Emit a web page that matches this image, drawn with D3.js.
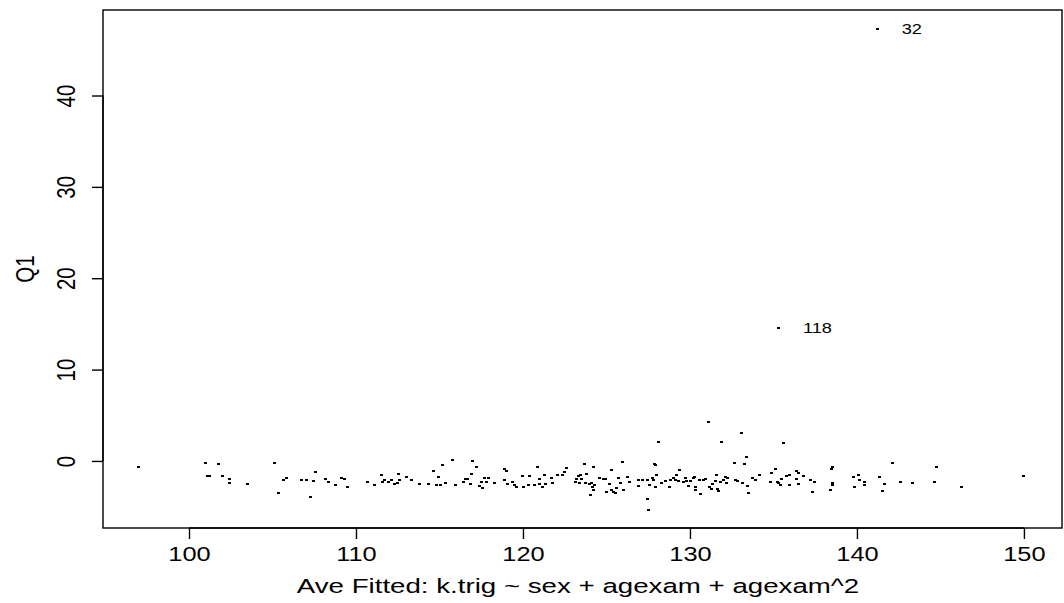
<!DOCTYPE html>
<html>
<head>
<meta charset="utf-8">
<script src="https://cdn.jsdelivr.net/npm/d3@7"></script>
<style>
  html, body { margin: 0; padding: 0; background: #fff; }
  svg { display: block; }
  text { font-family: "Liberation Sans", Arial, Helvetica, sans-serif; fill: #000; }
</style>
</head>
<body>
<svg id="chart" width="1064" height="603"></svg>
<script>
// Average fitted value (x) against the Q1 statistic (y), one point per subject
const fitted = [
  96.96, 101.0, 101.78, 101.1, 101.2, 101.99, 102.44, 102.40, 103.49,
  105.11, 105.37, 105.63, 105.81, 106.71, 107.02, 107.60, 107.47, 107.25, 108.19,
  108.38, 108.78, 109.14, 109.32, 109.48, 110.70, 111.10,
  111.54, 111.60, 111.72, 111.96, 112.14, 112.28, 112.48, 112.54, 112.60, 113.02,
  113.32, 113.80, 114.35, 114.67, 114.93, 114.83, 115.07, 115.21, 115.39, 115.77,
  115.95, 116.43, 116.55, 116.65, 116.83, 116.91, 116.95, 117.23, 117.38, 117.53,
  117.59, 117.71, 117.80, 117.95, 118.31,
  118.92, 119.02, 118.88, 119.08, 119.36, 119.48, 119.62, 119.96, 120.02, 120.34,
  120.42, 120.68, 120.88, 120.96, 120.98, 121.16, 121.30, 121.32, 121.72, 121.78,
  122.06, 122.38, 122.47, 122.63, 123.23, 123.17, 123.31, 123.45, 123.39, 123.51,
  123.67, 123.75, 123.83, 123.99, 124.11, 124.15, 124.23, 124.25, 124.07, 124.29,
  124.57, 124.83, 124.93, 125.01, 125.29, 125.21, 125.31, 125.43, 125.55, 125.61,
  125.75, 125.85, 125.99, 126.01,
  126.25, 126.35, 126.89, 127.15, 126.93, 127.44, 127.44, 127.54, 127.60, 127.74,
  127.80, 127.86, 127.92, 128.00, 127.94, 128.14, 128.28, 128.52, 128.78, 128.86,
  129.00, 129.12, 129.22, 129.32, 129.38, 129.60, 129.72, 129.80, 129.90, 130.06,
  130.20, 130.30, 130.32, 130.36, 130.66, 130.60, 130.80, 130.96, 131.14, 131.20,
  131.28, 131.36, 131.50, 131.58, 131.64, 131.72, 131.90, 131.84, 132.02, 132.10,
  132.16, 132.24, 132.69, 132.73, 132.83, 133.07, 133.25, 133.41, 133.15, 133.43,
  133.49, 133.73, 133.91, 134.17, 134.81, 134.87, 135.11, 135.61, 135.25, 135.33,
  135.41, 135.51, 135.45, 135.79, 135.95, 135.95, 136.39, 136.53, 136.39, 136.53,
  136.79, 137.20, 137.47, 137.35, 138.46, 138.52, 138.54, 138.52, 138.40, 139.80,
  140.10, 140.16, 140.46, 139.88, 140.46,
  141.38, 141.64, 141.54, 142.14, 142.63, 143.34, 144.77, 144.63, 146.27, 150.0,
  141.24, 135.33
];
const q1 = [
  -0.66, -0.22, -0.33, -1.64, -1.64, -1.64, -1.97, -2.37, -2.52,
  -0.22, -3.50, -2.08, -1.86, -2.08, -2.08, -1.20, -2.19, -3.94, -1.97,
  -2.30, -2.63, -1.86, -1.97, -2.85, -2.30, -2.63,
  -1.53, -2.30, -2.08, -2.30, -2.08, -2.52, -2.41, -1.42, -2.08, -1.75,
  -2.08, -2.52, -2.52, -1.10, -1.75, -2.63, -2.63, -0.39, -2.41, 0.11,
  -2.63, -2.30, -1.97, -1.97, -2.52, -1.42, 0.00, -0.66, -2.74, -2.30,
  -2.96, -1.86, -2.30, -1.86, -2.41,
  -0.88, -1.10, -2.08, -2.52, -2.30, -2.63, -2.85, -1.64, -2.85, -2.63,
  -1.64, -2.63, -0.66, -1.97, -2.52, -2.85, -1.53, -2.52, -1.86, -2.41,
  -1.53, -1.53, -1.20, -0.77, -1.97, -2.30, -1.64, -1.53, -2.41, -1.97,
  -0.33, -2.41, -1.42, -2.52, -2.41, -2.85, -0.66, -3.21, -3.76, -2.63,
  -1.86, -1.97, -1.97, -3.40, -0.99, -2.52, -3.21, -3.40, -3.50, -2.96,
  -1.86, -2.41, -0.11, -3.21,
  -1.75, -2.30, -2.08, -2.08, -2.74, -2.08, -4.16, -5.32, -2.63, -1.86,
  -2.08, -0.33, -0.39, -1.53, -2.85, 2.08, -2.41, -2.19, -2.85, -2.08,
  -1.86, -2.08, -1.53, -2.19, -0.99, -2.30, -1.86, -2.19, -2.74, -2.19,
  -1.86, -1.75, -2.85, -3.18, -3.61, -2.08, -2.08, -1.97, 4.27, -2.85,
  -3.07, -2.52, -2.19, -1.53, -3.07, -3.29, 2.08, -2.30, -2.08, -1.75,
  -2.41, -1.86, -0.22, -2.08, -2.19, 3.07, -0.33, 0.44, -2.41, -2.74,
  -3.50, -1.86, -2.08, -1.53, -2.30, -1.31, -0.88, 1.97, -2.30, -2.41,
  -2.66, -1.93, -2.63, -1.64, -1.53, -2.63, -1.10, -1.31, -1.97, -2.52,
  -1.64, -2.08, -2.30, -3.40, -0.88, -0.66, -2.41, -2.63, -3.18, -1.75,
  -1.53, -2.08, -2.30, -2.85, -2.66,
  -1.75, -2.52, -3.29, -0.22, -2.30, -2.41, -0.66, -2.30, -2.85, -1.64,
  47.28, 14.57
];
// Observations identified by case number next to their points
const labelIndex = [fitted.length - 2, fitted.length - 1];
const labelText = ["32", "118"];

const xTicks = [100, 110, 120, 130, 140, 150];
const yTicks = [0, 10, 20, 30, 40];
const xTitle = "Ave Fitted: k.trig ~ sex + agexam + agexam^2";
const yTitle = "Q1";

// the device is wider than it is drawn: glyphs get a horizontal stretch
const STRETCH = 1.24;
const FONT = "'Liberation Sans', Arial, sans-serif";

const svg = d3.select("#chart");
const box = { left: 103, right: 1062, top: 10, bottom: 528 };

const x = d3.scaleLinear().domain([94.85, 152.28]).range([box.left, box.right]);
const y = d3.scaleLinear().domain([-7.34, 49.36]).range([box.bottom, box.top]);

// horizontally stretched text placed at (cx, baseline)
function wideText(g, str, cx, base, size, stretch, anchor) {
  return g.append("text")
    .attr("transform", `translate(${cx},${base}) scale(${stretch},1)`)
    .attr("text-anchor", anchor || "middle")
    .style("font-size", size + "px")
    .style("font-family", FONT)
    .text(str);
}

// plot frame
svg.append("rect")
  .attr("x", box.left).attr("y", box.top)
  .attr("width", box.right - box.left).attr("height", box.bottom - box.top)
  .attr("fill", "none").attr("stroke", "#000").attr("stroke-width", 1.4);

// x axis
const gx = svg.append("g")
  .attr("transform", `translate(0,${box.bottom})`)
  .call(d3.axisBottom(x).tickValues(xTicks).tickSize(11).tickSizeOuter(0).tickFormat(""));
gx.select(".domain")
  .attr("d", `M${x(xTicks[0])},0H${x(xTicks[xTicks.length - 1])}`)
  .attr("stroke", "#000").attr("stroke-width", 1.4);
gx.selectAll(".tick line").attr("stroke", "#000").attr("stroke-width", 1.4);
gx.selectAll(".tick").each(function (d) {
  wideText(d3.select(this), d3.format("d")(d), 0, 33, 20.5, STRETCH);
});

// y axis, labels parallel to the axis
const gy = svg.append("g")
  .attr("transform", `translate(${box.left},0)`)
  .call(d3.axisLeft(y).tickValues(yTicks).tickSize(11).tickSizeOuter(0).tickFormat(""));
gy.select(".domain")
  .attr("d", `M0,${y(yTicks[0])}V${y(yTicks[yTicks.length - 1])}`)
  .attr("stroke", "#000").attr("stroke-width", 1.4);
gy.selectAll(".tick line").attr("stroke", "#000").attr("stroke-width", 1.4);
gy.selectAll(".tick").append("text")
  .attr("transform", `translate(-28,0) scale(${STRETCH},1) rotate(-90)`)
  .attr("text-anchor", "middle")
  .style("font-size", "20.5px")
  .style("font-family", FONT)
  .text(d => d3.format("d")(d));

// points: small solid dots snapped to the pixel grid
svg.append("g")
  .attr("shape-rendering", "crispEdges")
  .selectAll("rect")
  .data(fitted.map((v, i) => [v, q1[i]]))
  .join("rect")
  .attr("x", d => Math.round(x(d[0]) - 1.5))
  .attr("y", d => Math.round(y(d[1]) - 1))
  .attr("width", 3).attr("height", 2)
  .attr("fill", "#000");

// case labels
const gl = svg.append("g");
labelIndex.forEach((i, k) => {
  wideText(gl, labelText[k], x(fitted[i]) + 24, y(q1[i]) + 5, 14, 1.3, "start");
});

// axis titles
wideText(svg, xTitle, 578, 593, 19.5, 1.42);

svg.append("text")
  .attr("transform", `translate(34,${(box.top + box.bottom) / 2}) scale(${STRETCH},1) rotate(-90)`)
  .attr("text-anchor", "middle")
  .style("font-size", "20.5px")
  .style("font-family", FONT)
  .text(yTitle);
</script>
</body>
</html>
